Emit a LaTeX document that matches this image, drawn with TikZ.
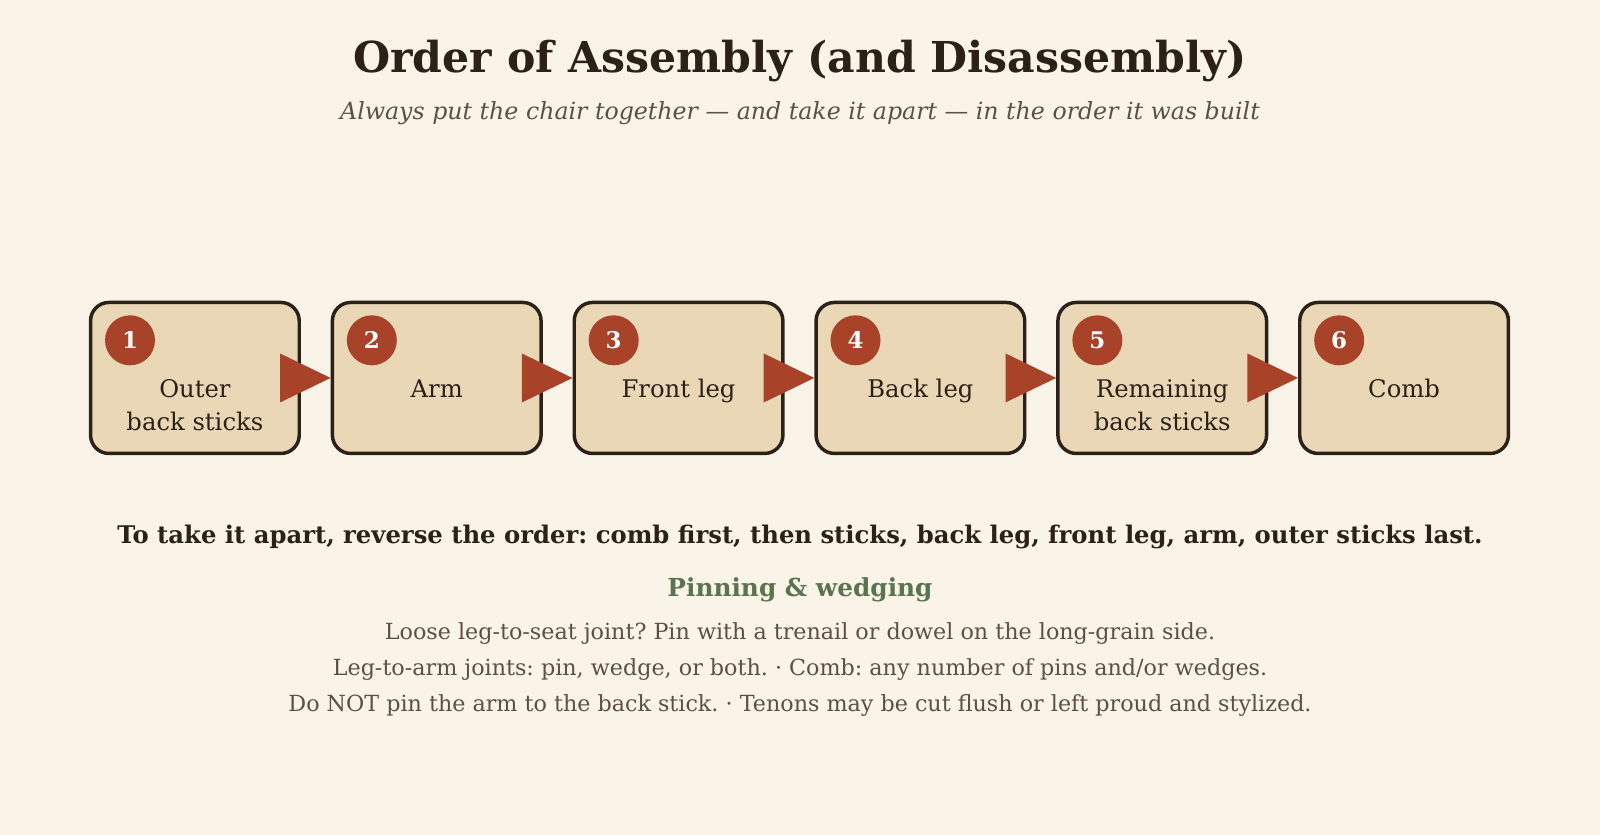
\documentclass[tikz,border=0pt]{standalone}
\usepackage{fontspec}
\setmainfont{DejaVu Serif}
\frenchspacing
\usetikzlibrary{calc}
\definecolor{bg}{HTML}{FAF3E8}
\definecolor{ink}{HTML}{2B2118}
\definecolor{muted}{HTML}{5E5040}
\definecolor{boxfill}{HTML}{E9D7B6}
\definecolor{rust}{HTML}{A8432A}
\definecolor{sage}{HTML}{5A7350}
\tikzset{
  stepbox/.style={draw=ink, line width=3.4pt, fill=boxfill, rounded corners=18pt,
    minimum width=204.5pt, minimum height=148pt, inner sep=0pt},
  numdot/.style={circle, fill=rust, minimum size=49pt, inner sep=0pt, text=white,
    font=\fontsize{22.5}{26}\selectfont\bfseries},
  boxtext/.style={text=ink, align=center, anchor=base, inner sep=0pt,
    font=\fontsize{23.8}{31.5}\selectfont},
  arrowtri/.style={fill=rust, draw=none},
}
\begin{document}
\begin{tikzpicture}[x=1pt,y=-1pt]
\fill[bg] (0,0) rectangle (1568,818.3);
\useasboundingbox (0,0) rectangle (1568,818.3);

\node[text=ink, font=\fontsize{41.75}{50}\selectfont\bfseries] (title) at (784,60) {Order of Assembly (and Disassembly)};
\node[text=muted, font=\fontsize{23.2}{28}\selectfont\itshape] (sub) at (784,111) {Always put the chair together — and take it apart — in the order it was built};

\foreach \i/\t/\by [count=\k from 0] in {1/{Outer\\back sticks}/421.5,2/{Arm}/390,3/{Front leg}/390,4/{Back leg}/390,5/{Remaining\\back sticks}/421.5,6/{Comb}/390} {
  \pgfmathsetmacro{\cx}{191+237*\k}
  \node[stepbox] (b\i) at (\cx,370.4) {};
  \node[numdot] (n\i) at (\cx-63.6,333.5) {\i};
  \node[boxtext] (t\i) at (\cx,\by) {\t};
}

\foreach \a/\b in {1/2,2/3,3/4,4/5,5/6} {
  \fill[arrowtri] ($(b\a.east)+(-20.5,-24)$) -- (b\b.west) -- ($(b\a.east)+(-20.5,24)$) -- cycle;
}

\node[text=ink, font=\fontsize{23.8}{28}\selectfont\bfseries] (rev) at (784,526) {To take it apart, reverse the order: comb first, then sticks, back leg, front leg, arm, outer sticks last.};
\node[text=sage, font=\fontsize{24.3}{28}\selectfont\bfseries] (pin) at (784,578) {Pinning \& wedging};
\node[text=muted, font=\fontsize{21.8}{26}\selectfont] (l1) at (784,621) {Loose leg-to-seat joint? Pin with a trenail or dowel on the long-grain side.};
\node[text=muted, font=\fontsize{21.8}{26}\selectfont] (l2) at (784,656) {Leg-to-arm joints: pin, wedge, or both. · Comb: any number of pins and/or wedges.};
\node[text=muted, font=\fontsize{21.8}{26}\selectfont] (l3) at (784,691) {Do NOT pin the arm to the back stick. · Tenons may be cut flush or left proud and stylized.};
\end{tikzpicture}
\end{document}
